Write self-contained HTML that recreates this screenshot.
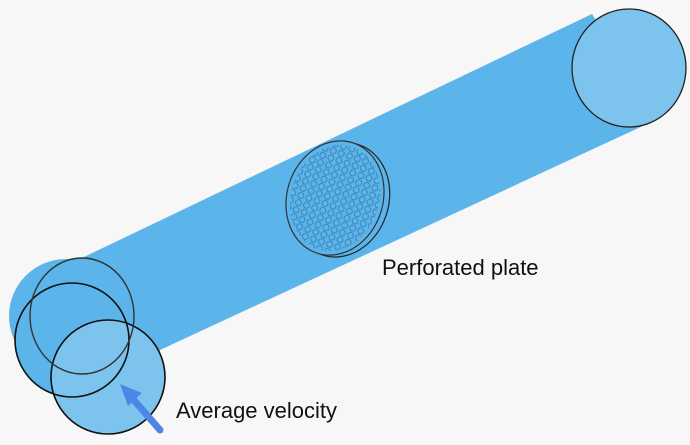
<!DOCTYPE html>
<html><head><style>html,body{margin:0;padding:0;background:#f7f7f7;}svg{display:block}</style></head>
<body>
<svg width="690" height="445" xmlns="http://www.w3.org/2000/svg">
<rect width="690" height="445" fill="#f7f7f7"/>
<polygon points="40,278 592,14 660,118 160,350 120,420 30,380" fill="#5bb5ea"/>
<circle cx="66" cy="316" r="57" fill="#5bb5ea"/>
<ellipse cx="82" cy="316" rx="52" ry="58" fill="#5bb5ea"/>
<circle cx="72" cy="340" r="57" fill="#5bb5ea"/>
<circle cx="108" cy="377" r="57" fill="#7cc4ee" stroke="#111" stroke-width="1.6"/>
<circle cx="72" cy="340" r="57" fill="none" stroke="#111" stroke-width="1.6"/>
<ellipse cx="82" cy="316" rx="52" ry="58" fill="none" stroke="#333" stroke-width="1.4"/>
<ellipse cx="629" cy="68" rx="57" ry="59" fill="#7cc4ee" stroke="#222" stroke-width="1.3"/>
<g transform="rotate(18 335 198)">
<ellipse cx="341" cy="198" rx="48" ry="58" fill="#5bb5ea" stroke="#222" stroke-width="1.2"/>
<ellipse cx="335" cy="198" rx="48" ry="58" fill="#5bb5ea" stroke="#333" stroke-width="1.2"/>
<clipPath id="c"><ellipse cx="335" cy="198" rx="44" ry="54"/></clipPath>
<pattern id="p" x="0" y="0" width="8.5" height="7.5" patternUnits="userSpaceOnUse"><circle cx="4.2" cy="3.7" r="3" fill="none" stroke="#3a7db2" stroke-width="0.9"/></pattern>
<rect x="285" y="140" width="100" height="120" fill="url(#p)" clip-path="url(#c)"/>
</g>
<line x1="160" y1="430" x2="132" y2="398" stroke="#4d86e6" stroke-width="7" stroke-linecap="round"/>
<polygon points="120,384 142,393 128,406" fill="#4d86e6"/>
<text x="382" y="275" font-family="Liberation Sans, sans-serif" font-size="22" fill="#111">Perforated plate</text>
<text x="176" y="418" font-family="Liberation Sans, sans-serif" font-size="22" fill="#111">Average velocity</text>
</svg>
</body></html>
